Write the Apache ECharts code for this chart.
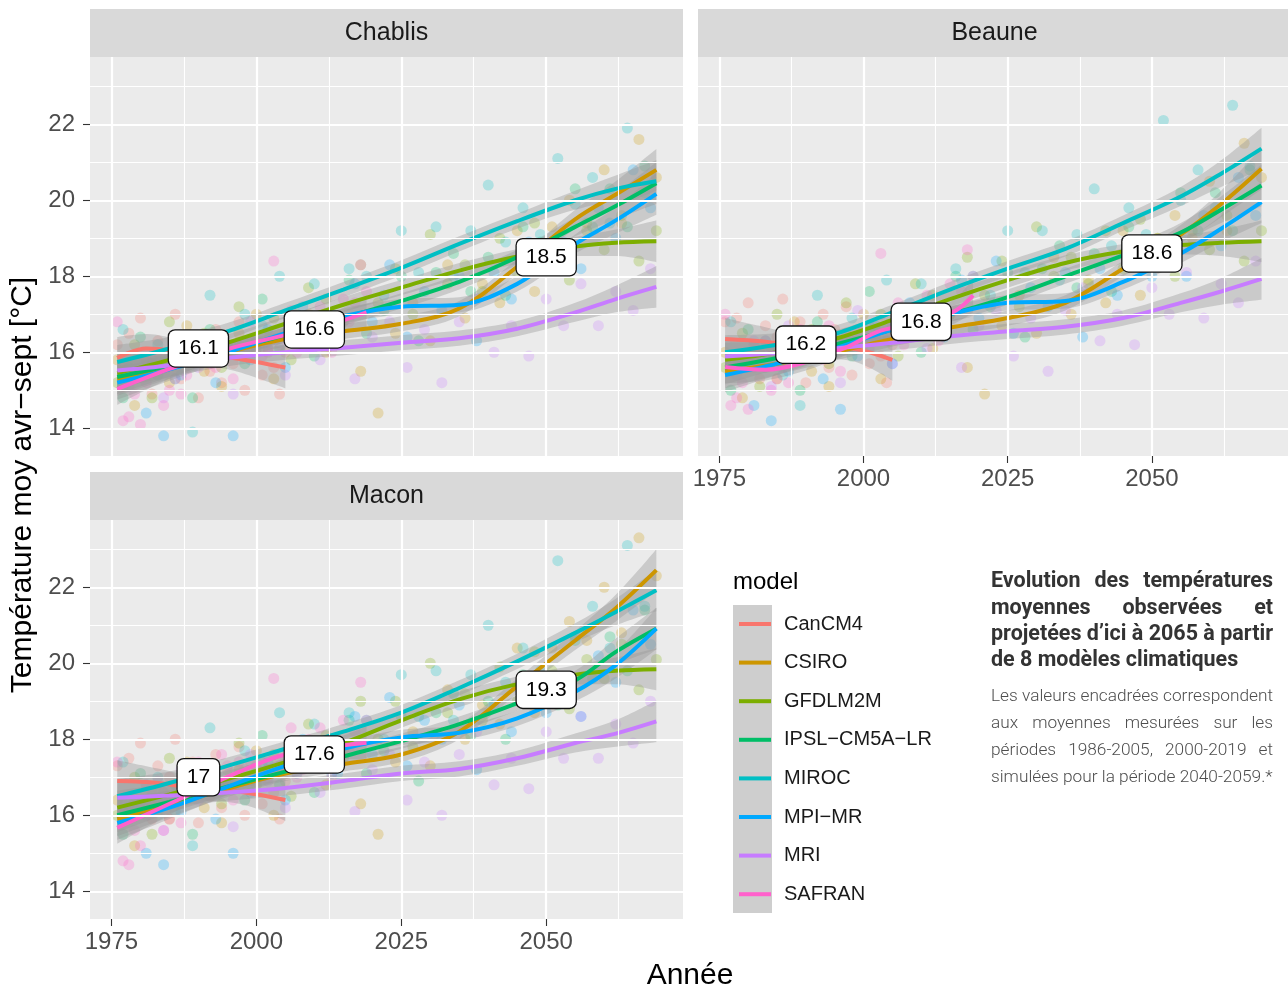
<!DOCTYPE html>
<html><head><meta charset="utf-8">
<script src="https://cdn.jsdelivr.net/npm/echarts@6/dist/echarts.min.js"></script>
<style>html,body{margin:0;padding:0;background:#fff}#c{width:1288px;height:992px}</style>
</head><body><div id="c"></div>
<script>
// ---------- DATA ----------
const models = ['CanCM4','CSIRO','GFDLM2M','IPSL\u2212CM5A\u2212LR','MIROC','MPI\u2212MR','MRI','SAFRAN'];
const colors = ['#F8766D','#CD9600','#7CAE00','#00BE67','#00BFC4','#00A9FF','#C77CFF','#FF61CC'];
const panelNames = ['Chablis','Beaune','Macon'];
const xTicks = [1975,2000,2025,2050];
const xMinor = [1987.5,2012.5,2037.5,2062.5];
const yTicks = [14,16,18,20,22];
const yMinor = [15,17,19,21,23];

// years of the annual points
const yearsCan = [1976,1977,1978,1979,1980,1981,1982,1983,1984,1985,1986,1987,1988,1989,1990,1991,1992,1993,1994,1995,1996,1997,1998,1999,2000,2001,2002,2003,2004,2005];
const yearsSafran = [1976,1977,1978,1979,1980,1981,1982,1983,1984,1985,1986,1987,1988,1989,1990,1991,1992,1993,1994,1995,1996,1997,1998,1999,2000,2001,2002,2003,2004,2005,2006,2007,2008,2009,2010,2011,2012,2013,2014,2015,2016,2017,2018,2019];
const yearsA = [1976,1979,1982,1985,1988,1991,1994,1997,2000,2003,2006,2009,2012,2015,2018,2021,2024,2027,2030,2033,2036,2039,2042,2045,2048,2051,2054,2057,2060,2063,2066,2069];
const yearsB = [1977,1980,1983,1986,1989,1992,1995,1998,2001,2004,2007,2010,2013,2016,2019,2022,2025,2028,2031,2034,2037,2040,2043,2046,2049,2052,2055,2058,2061,2064,2067];
const yearsC = [1978,1981,1984,1987,1990,1993,1996,1999,2002,2005,2008,2011,2014,2017,2020,2023,2026,2029,2032,2035,2038,2041,2044,2047,2050,2053,2056,2059,2062,2065,2068];
const pointYears = [yearsCan, yearsA, yearsA, yearsB, yearsB, yearsC, yearsC, yearsSafran];

// annual points, model order as in `models`
const ptsChablis = [
 [16.2,15.1,16.5,15.4,16.9,15.8,14.9,16.3,15.6,16.0,17.0,15.3,15.9,16.4,14.8,16.1,15.5,16.6,15.2,16.2,15.7,16.8,15.0,15.9,16.3,15.4,16.1,15.6,14.9,16.0],
 [15.8,14.6,15.7,15.2,16.7,15.5,15.1,16.5,17.0,15.3,16.5,17.0,16.0,16.9,15.5,14.4,16.5,17.3,16.3,18.3,16.9,17.8,17.3,19.2,17.6,19.3,20.0,19.4,20.8,19.4,21.6,20.6],
 [15.2,16.2,14.8,16.8,15.8,16.5,15.6,17.2,16.1,16.9,15.8,17.7,17.4,16.8,18.3,17.3,18.2,17.0,19.1,17.8,18.3,17.6,19.0,18.1,19.4,18.9,17.9,19.2,18.7,19.6,18.4,19.2],
 [14.8,16.4,15.4,16.1,14.8,16.6,16.2,15.7,17.4,16.1,17.0,15.9,17.0,17.9,16.5,17.1,18.0,16.3,18.1,18.6,17.6,18.5,17.5,19.3,18.9,18.6,20.3,19.3,20.3,19.3,20.9],
 [16.6,15.5,16.2,15.3,13.9,17.5,16.1,17.0,16.7,18.0,16.5,17.8,16.5,18.2,18.0,17.5,19.2,18.1,19.3,18.0,19.2,20.4,18.9,19.8,19.1,21.1,19.9,20.6,19.4,21.9,20.2],
 [15.6,14.4,13.8,15.4,16.3,15.2,13.8,15.8,16.6,15.6,17.2,16.9,16.3,17.8,16.8,18.3,16.4,17.6,17.1,18.0,16.3,18.1,17.4,18.9,18.1,18.9,18.2,19.8,19.0,20.8,19.8],
 [15.1,16.0,14.8,16.4,15.6,16.1,14.9,16.8,16.1,15.4,16.5,15.8,16.9,15.3,16.4,16.8,15.6,16.6,15.2,16.8,17.4,16.0,16.7,15.9,17.4,16.7,17.8,16.7,17.6,17.1,18.2],
 [16.8,14.2,14.3,14.9,14.1,15.2,15.8,16.0,14.6,15.0,15.3,14.9,15.4,16.3,16.2,15.8,15.7,15.6,16.4,16.0,15.3,16.2,16.0,16.3,16.1,15.9,16.0,18.4,16.2,16.4,17.1,16.0,16.2,16.9,16.4,17.2,16.9,16.0,16.5,17.4,16.8,17.3,18.3,17.6]
];
const ptsBeaune = [
 [16.8,15.5,16.9,15.8,17.3,16.2,15.3,16.7,16.0,16.4,17.4,15.7,16.3,16.8,15.2,16.5,15.9,17.0,15.6,16.6,16.1,17.2,15.4,16.3,16.6,15.7,16.4,15.9,15.2,16.2],
 [16.0,14.8,15.8,15.3,16.8,15.5,15.1,16.5,17.0,15.3,16.5,17.0,16.1,17.0,15.6,14.9,16.7,17.5,16.5,18.5,17.0,17.9,17.3,19.2,17.5,19.0,19.6,19.0,20.5,19.2,21.5,20.6],
 [15.6,16.5,15.1,17.0,16.0,16.6,15.7,17.3,16.2,17.0,15.9,17.8,17.5,17.0,18.5,17.5,18.4,17.2,19.3,18.0,18.5,17.8,19.2,18.2,19.5,19.0,18.0,19.2,18.7,19.6,18.4,19.2],
 [15.0,16.6,15.6,16.3,15.0,16.8,16.4,15.9,17.6,16.3,17.1,16.0,17.1,18.0,16.6,17.2,18.1,16.4,18.2,18.8,17.7,18.6,17.6,19.3,18.9,18.5,20.2,19.2,20.2,19.2,20.8],
 [16.8,15.6,16.3,15.4,14.6,17.5,16.0,16.9,16.7,17.9,16.5,17.8,16.5,18.2,18.0,17.5,19.2,18.1,19.2,17.9,19.1,20.3,18.8,19.8,19.1,22.1,20.0,20.8,19.8,22.5,20.9],
 [15.8,14.6,14.2,15.5,16.4,15.3,14.5,15.9,16.7,15.7,17.3,17.0,16.4,17.9,16.9,18.4,16.5,17.7,17.2,18.1,16.4,18.2,17.5,18.9,18.0,18.7,18.0,19.6,18.8,20.6,19.6],
 [15.4,16.3,15.1,16.7,15.9,16.4,15.2,17.1,16.4,15.7,16.8,16.1,17.2,15.6,16.7,17.1,15.9,16.9,15.5,17.1,17.7,16.3,17.0,16.2,17.7,17.0,18.1,16.9,17.8,17.3,18.4],
 [17.0,14.6,14.8,15.2,14.5,15.6,16.0,16.3,15.0,15.3,15.6,15.2,15.8,16.6,16.5,16.0,16.0,15.8,16.7,16.3,15.5,16.5,16.3,16.6,16.4,16.1,16.3,18.6,16.5,16.7,17.3,16.2,16.4,17.1,16.7,17.5,17.1,16.3,16.8,17.8,17.1,17.6,18.7,18.0]
];
const ptsMacon = [
 [17.3,16.1,17.5,16.4,17.9,16.8,15.9,17.3,16.6,17.0,18.0,16.3,16.9,17.4,15.8,17.1,16.5,17.6,16.2,17.2,16.7,17.8,16.0,16.9,17.2,16.3,17.0,16.6,15.9,16.9],
 [16.4,15.2,16.3,15.9,17.4,16.2,15.8,17.2,17.7,16.0,17.3,17.8,16.8,17.7,16.3,15.5,17.4,18.2,17.3,19.3,18.0,18.9,18.4,20.4,18.7,20.4,21.1,20.6,22.0,20.8,23.3,22.3],
 [16.0,17.0,15.5,17.5,16.5,17.2,16.3,17.9,16.8,17.6,16.5,18.4,18.1,17.5,19.0,18.0,19.0,17.8,20.0,18.7,19.2,18.5,19.9,19.0,20.3,19.8,18.8,20.1,19.6,20.5,19.3,20.1],
 [15.5,17.1,16.1,16.8,15.5,17.3,16.9,16.4,18.1,16.8,17.7,16.6,17.7,18.5,17.1,17.7,18.6,16.9,18.7,19.2,18.1,19.0,18.0,19.7,19.2,18.9,20.6,19.6,20.7,19.8,21.4],
 [17.4,16.3,17.0,16.1,15.2,18.3,16.9,17.7,17.4,18.7,17.1,18.4,17.1,18.7,18.5,18.0,19.7,18.6,19.8,18.5,19.7,21.0,19.5,20.4,19.8,22.7,20.7,21.5,20.4,23.1,21.5],
 [16.2,15.0,14.7,16.1,17.0,15.9,15.0,16.6,17.4,16.4,18.0,17.7,17.1,18.6,17.6,19.1,17.3,18.5,18.0,18.9,17.2,18.9,18.2,19.6,18.7,19.4,18.6,20.2,19.5,21.4,20.5],
 [15.9,16.8,15.6,17.2,16.4,16.9,15.7,17.6,16.9,16.2,17.3,16.6,17.7,16.1,17.2,17.6,16.4,17.4,16.0,17.6,18.2,16.8,17.5,16.7,18.2,17.5,18.6,17.5,18.4,17.9,19.0],
 [17.4,14.8,14.7,15.6,15.2,16.0,16.6,16.9,15.6,15.9,16.3,15.8,16.6,17.3,17.4,16.9,16.8,16.7,17.6,17.3,16.4,17.4,17.2,17.4,17.3,17.0,17.2,19.6,17.3,17.5,18.3,17.0,17.2,18.0,17.5,18.3,17.9,17.0,17.6,18.5,17.8,18.2,19.5,18.5]
];

// smoothed trends (loess) and half-width of their confidence band
const projYears = [1976,1985,1995,2005,2015,2025,2035,2045,2055,2062,2069];
const projHalf  = [0.45,0.3,0.22,0.2,0.2,0.2,0.2,0.2,0.25,0.35,0.55];
// CSIRO, GFDLM2M, IPSL, MIROC, MPI, MRI
const trendChablis = [
 [15.3,15.6,16.0,16.35,16.55,16.75,17.15,18.25,19.5,20.15,20.8],
 [15.45,15.8,16.25,16.75,17.25,17.7,18.15,18.52,18.78,18.88,18.92],
 [15.35,15.65,16.05,16.45,16.9,17.35,17.85,18.5,19.3,19.85,20.45],
 [15.74,16.1,16.55,17.1,17.65,18.22,18.85,19.45,20.0,20.3,20.5],
 [15.2,15.55,16.0,16.5,16.95,17.2,17.25,17.8,18.85,19.47,20.17],
 [15.52,15.65,15.85,16.0,16.12,16.25,16.37,16.62,17.05,17.4,17.72]
];
const trendBeaune = [
 [15.5,15.7,16.0,16.35,16.65,16.9,17.3,18.2,19.1,19.9,20.83],
 [15.8,16.0,16.35,16.85,17.4,17.9,18.35,18.65,18.82,18.88,18.92],
 [15.6,15.85,16.2,16.6,17.0,17.45,18.0,18.55,19.15,19.75,20.39],
 [16.0,16.2,16.48,17.05,17.65,18.2,18.72,19.4,20.1,20.7,21.36],
 [15.4,15.7,16.1,16.6,17.0,17.3,17.35,17.85,18.6,19.25,19.95],
 [15.89,15.98,16.1,16.25,16.42,16.55,16.67,16.9,17.3,17.6,17.93]
];
const trendMacon = [
 [15.9,16.25,16.7,17.1,17.35,17.6,18.2,19.4,20.6,21.45,22.45],
 [16.2,16.55,16.95,17.4,17.9,18.5,19.05,19.45,19.7,19.8,19.84],
 [16.0,16.35,16.75,17.15,17.55,17.95,18.4,18.95,19.55,20.3,20.91],
 [16.5,16.85,17.3,17.75,18.2,18.7,19.35,20.05,20.8,21.35,21.92],
 [15.8,16.2,16.75,17.3,17.75,18.05,18.17,18.55,19.25,19.95,20.91],
 [16.46,16.52,16.6,16.72,16.9,17.1,17.22,17.5,17.9,18.15,18.47]
];
// [year, value, half-width]
const canChablis = [[1976,15.85,0.55],[1981,16.1,0.38],[1988,16.0,0.3],[1996,15.85,0.33],[2005,15.6,0.55]];
const canBeaune  = [[1976,16.35,0.55],[1983,16.28,0.38],[1990,16.15,0.3],[1998,16.1,0.33],[2005,15.8,0.55]];
const canMacon   = [[1976,16.9,0.55],[1983,16.85,0.38],[1990,16.7,0.3],[1998,16.6,0.33],[2005,16.4,0.55]];
const safChablis = [[1976,15.03,0.42],[1985,15.56,0.26],[1995,16.08,0.2],[2005,16.45,0.2],[2012,16.7,0.26],[2019,17.05,0.45]];
const safBeaune  = [[1976,15.61,0.42],[1983,15.54,0.28],[1990,15.74,0.22],[1997,16.13,0.2],[2003,16.57,0.22],[2011,16.78,0.26],[2016,17.1,0.33],[2019,17.5,0.45]];
const safMacon   = [[1976,15.67,0.42],[1987,16.44,0.26],[1997,17.14,0.2],[2004,17.56,0.2],[2011,17.76,0.26],[2019,17.91,0.45]];

// boxed period means [year, value]
const labelsChablis = [[1990,16.1],[2010,16.6],[2050,18.5]];
const labelsBeaune  = [[1990,16.2],[2010,16.8],[2050,18.6]];
const labelsMacon   = [[1990,17],[2010,17.6],[2050,19.3]];

// ---------- BUILD ----------
const panels = [
  {pts: ptsChablis, trend: trendChablis, can: canChablis, saf: safChablis, labels: labelsChablis},
  {pts: ptsBeaune,  trend: trendBeaune,  can: canBeaune,  saf: safBeaune,  labels: labelsBeaune},
  {pts: ptsMacon,   trend: trendMacon,   can: canMacon,   saf: safMacon,   labels: labelsMacon}
];
const grids = [
  {left:90, top:57, width:593, height:399, show:true, backgroundColor:'#EBEBEB', borderWidth:0},
  {left:698, top:57, width:593, height:399, show:true, backgroundColor:'#EBEBEB', borderWidth:0},
  {left:90, top:520, width:593, height:399, show:true, backgroundColor:'#EBEBEB', borderWidth:0}
];
const FONT = 'Liberation Sans';

const xAxes = grids.map((g,i)=>({
  type:'value', gridIndex:i, min:1971.3, max:2073.6,
  splitLine:{show:false}, axisLine:{show:false},
  axisTick:{show:i!==0, customValues:xTicks, length:7, lineStyle:{color:'#333',width:1.1}},
  axisLabel:{show:i!==0, customValues:xTicks, margin:11, color:'#4D4D4D', fontSize:24, fontFamily:FONT, formatter:v=>String(v)}
}));
const yAxes = grids.map((g,i)=>({
  type:'value', gridIndex:i, min:13.27, max:23.77,
  splitLine:{show:false}, axisLine:{show:false},
  axisTick:{show:i!==1, customValues:yTicks, length:7, lineStyle:{color:'#333',width:1.1}},
  axisLabel:{show:i!==1, customValues:yTicks, margin:15, color:'#4D4D4D', fontSize:24, fontFamily:FONT, formatter:v=>String(v)}
}));

const series = [];
// grid lines
grids.forEach((g,i)=>{
  const ml = [];
  xMinor.forEach(v=>ml.push({xAxis:v, lineStyle:{color:'#fff',width:1.1,type:'solid'}}));
  yMinor.forEach(v=>ml.push({yAxis:v, lineStyle:{color:'#fff',width:1.1,type:'solid'}}));
  xTicks.forEach(v=>ml.push({xAxis:v, lineStyle:{color:'#fff',width:2.2,type:'solid'}}));
  yTicks.forEach(v=>ml.push({yAxis:v, lineStyle:{color:'#fff',width:2.2,type:'solid'}}));
  series.push({type:'line', name:'grid'+i, xAxisIndex:i, yAxisIndex:i, data:[], z:1, silent:true,
    markLine:{silent:true, symbol:['none','none'], label:{show:false}, animation:false, emphasis:{disabled:true}, data:ml}});
});
// points
panels.forEach((p,i)=>{
  models.forEach((m,k)=>{
    series.push({type:'scatter', name:m+' pts', xAxisIndex:i, yAxisIndex:i, z:2, silent:true,
      symbolSize:11, itemStyle:{color:colors[k], opacity:0.25},
      data: pointYears[k].map((y,j)=>[y, p.pts[k][j]])});
  });
});
// bands + smooth lines
// band series store [value, year] with encode so that the stacked dimension is the value (y)
function addSmooth(i, k, trip){
  const st = 'band'+i+'_'+k;
  const common = {xAxisIndex:i, yAxisIndex:i, z:3, silent:true, smooth:0.35, symbol:'none', showSymbol:false};
  series.push(Object.assign({type:'line', name:'band', stack:st, encode:{x:1, y:0},
    lineStyle:{opacity:0, width:0},
    data: trip.map(d=>[d[1]-d[2], d[0]])}, common));
  series.push(Object.assign({type:'line', name:'band', stack:st, encode:{x:1, y:0},
    lineStyle:{opacity:0, width:0},
    areaStyle:{color:'rgba(153,153,153,0.4)', opacity:1},
    data: trip.map(d=>[2*d[2], d[0]])}, common));
  series.push(Object.assign({type:'line', name:models[k], lineStyle:{color:colors[k], width:4},
    itemStyle:{color:colors[k]}, data: trip.map(d=>[d[0], d[1]])}, common));
}
panels.forEach((p,i)=>{
  addSmooth(i, 0, p.can);
  p.trend.forEach((vals, t)=>{
    addSmooth(i, t+1, projYears.map((y,j)=>[y, vals[j], projHalf[j]]));
  });
  addSmooth(i, 7, p.saf);
});
// labels (own layer, always on top)
panels.forEach((p,i)=>{
  series.push({type:'scatter', name:'labels', xAxisIndex:i, yAxisIndex:i, z:10, zlevel:1, silent:true,
    symbolSize:0, data:p.labels,
    label:{show:true, position:'inside', formatter: d=>String(d.value[1]),
      fontSize:21, fontFamily:FONT, color:'#000', backgroundColor:'#FFFFFF', opacity:1,
      borderColor:'#111', borderWidth:1.3, borderRadius:6, padding:[8,9,6,9], lineHeight:22}});
});

// ---------- TEXT / GRAPHIC ----------
const graphic = [];
const strips = [[90,9,'Chablis'],[698,9,'Beaune'],[90,472,'Macon']];
strips.forEach(s=>{
  graphic.push({type:'rect', x:s[0], y:s[1], shape:{width:593, height:48}, style:{fill:'#D9D9D9'}, silent:true});
  graphic.push({type:'text', x:s[0]+296.5, y:s[1]+24, silent:true,
    style:{text:s[2], fill:'#1A1A1A', fontSize:25, fontFamily:FONT, align:'center', verticalAlign:'middle'}});
});
graphic.push({type:'text', x:23, y:485, rotation:Math.PI/2, silent:true,
  style:{text:'Température moy avr\u2212sept [°C]', fill:'#000', fontSize:30, fontFamily:FONT, align:'center', verticalAlign:'middle'}});
graphic.push({type:'text', x:690, y:976, silent:true,
  style:{text:'Année', fill:'#000', fontSize:30, fontFamily:FONT, align:'center', verticalAlign:'middle'}});
graphic.push({type:'text', x:733, y:582, silent:true,
  style:{text:'model', fill:'#000', fontSize:24, fontFamily:FONT, align:'left', verticalAlign:'middle'}});
graphic.push({type:'rect', x:733, y:605, shape:{width:39, height:308}, style:{fill:'#CECECE'}, silent:true, z:-1});

const ctx = document.createElement('canvas').getContext('2d');
function measure(t, weight, size){ ctx.font = weight+' '+size+'px Roboto'; return ctx.measureText(t).width; }
function setLine(text, weight, size, color, x0, x1, y, just){
  const words = text.split(' ');
  const w = words.map(s=>measure(s, weight, size));
  const sum = w.reduce((a,b)=>a+b,0);
  const gap = (just && words.length>1) ? (x1-x0-sum)/(words.length-1) : measure(' ', weight, size);
  let x = x0;
  words.forEach((s,i)=>{
    graphic.push({type:'text', x:x, y:y, silent:true,
      style:{text:s, fill:color, fontSize:size, fontWeight:weight, fontFamily:'Roboto', align:'left', verticalAlign:'middle'}});
    x += w[i] + gap;
  });
}
const titleLines = ['Evolution des températures','moyennes observées et','projetées d\u2019ici à 2065 à partir','de 8 modèles climatiques'];
const bodyLines = ['Les valeurs encadrées correspondent','aux moyennes mesurées sur les','périodes 1986-2005, 2000-2019 et','simulées pour la période 2040-2059.*'];
// font sizes fitted so that a normally spaced line fills the 282px column
const tSize = 20 * 282 / measure(titleLines[2], 'bold', 20);
const bSize = 14 * 282 / measure(bodyLines[0], '300', 14);
titleLines.forEach((t,i)=>setLine(t,'bold',tSize,'#333333',991,1273,582+i*26.2,i<3));
bodyLines.forEach((t,i)=>setLine(t,'300',bSize,'#4D4D4D',991,1273,696.5+i*27,i<3));

const chart = echarts.init(document.getElementById('c'), null, {renderer:'canvas'});
chart.setOption({
  animation:false,
  backgroundColor:'#FFFFFF',
  grid: grids,
  xAxis: xAxes,
  yAxis: yAxes,
  legend: {data: models, left:737, top:614, orient:'vertical', padding:0,
    itemWidth:32, itemHeight:20, itemGap:18.6, selectedMode:false,
    itemStyle:{opacity:0}, lineStyle:{width:4},
    textStyle:{fontSize:20, lineHeight:20, color:'#1A1A1A', fontFamily:FONT, padding:[0,0,0,8]}},
  graphic: graphic,
  series: series
});
</script></body></html>
